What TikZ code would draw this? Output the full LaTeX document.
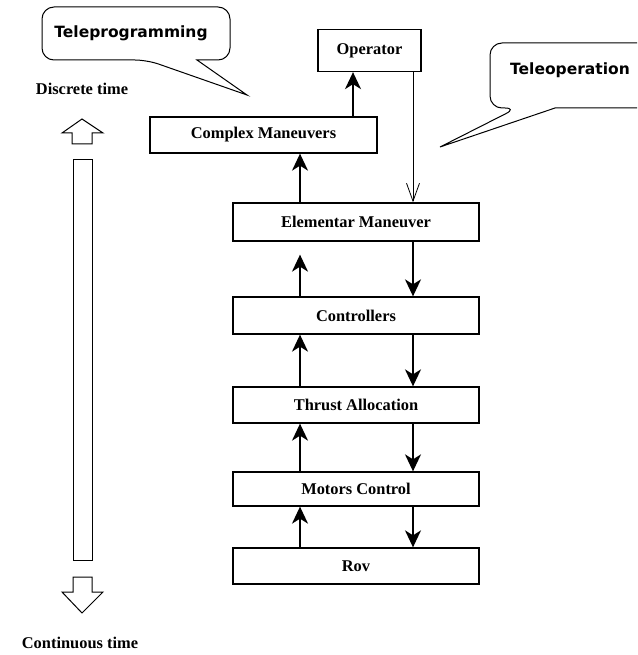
\documentclass[tikz,border=0pt]{standalone}
\usepackage{fontspec}
\setmainfont{Liberation Serif}
\newfontfamily\bubblefont{DejaVu Sans}
\usepackage{tikz}
\usetikzlibrary{arrows.meta}
\usepackage{xcolor}

\begin{document}
\begin{tikzpicture}[x=1pt,y=-1pt,
        block/.style={draw,line width=1.3pt,minimum width=246pt,minimum height=37pt,inner sep=0pt,
            font=\fontsize{16.4}{18}\selectfont\bfseries},
        uparrow/.style={line width=1.6pt,-{Stealth[length=17pt,width=16pt,inset=5pt]}},
        thinarrow/.style={line width=0.8pt,-{Straight Barb[length=18pt,width=13pt]}},
        bubble/.style={draw,line width=1pt,rounded corners=12pt},
        bubbletext/.style={font=\bubblefont\fontsize{15.5}{18}\selectfont\bfseries},
        timetext/.style={font=\fontsize{16.4}{18}\selectfont\bfseries}]
        \useasboundingbox (0,0) rectangle (637,655);
        \begin{scope}
            \clip (0,0) rectangle (637,655);
            % callouts
            \draw[bubble] (197,60) -- (230,60) -- (230,7) -- (42,7) -- (42,60) -- (147,60) [sharp corners] -- (247,95) -- cycle;
            \node[bubbletext] (teleprog) at (131,33) {Teleprogramming};
            \draw[bubble] (555,108) -- (650,108) -- (650,43) -- (490,43) -- (490,108) -- (517,108) [sharp corners] -- (440,147) -- cycle;
            \node[bubbletext] (teleop) at (570,70) {Teleoperation};
        \end{scope}

        % time axis
        \node[timetext] (discrete) at (82,89) {Discrete time};
        \node[timetext] (continuous) at (80,643) {Continuous time};
        \draw[line width=1pt] (72,144) -- (72,133) -- (62,133) -- (82,119) -- (103,133) -- (92,133) -- (92,144) -- cycle;
        \draw[line width=1pt] (73,160) rectangle (92,560);
        \draw[line width=1pt] (73,577) -- (92,577) -- (92,592) -- (103,592) -- (82,613) -- (62,592) -- (73,592) -- cycle;

        % blocks
        \node[block,minimum width=103pt,minimum height=42pt] (operator) at (369.5,50.5) {Operator};
        \node[block,minimum width=227pt,minimum height=36pt] (complex) at (263.5,135) {Complex Maneuvers};
        \node[block,minimum height=38pt] (elem) at (356,222) {Elementar Maneuver};
        \node[block] (ctrl) at (356,315.5) {Controllers};
        \node[block,minimum height=36pt] (thrust) at (356,405) {Thrust Allocation};
        \node[block,minimum height=34pt] (motors) at (356,489) {Motors Control};
        \node[block,minimum height=36pt] (rov) at (356,566) {Rov};

        \coordinate (lx) at (300,0);
        \coordinate (rx) at (413,0);
        \coordinate (cx) at (353,0);

        % arrows
        \draw[uparrow] (cx |- complex.north) -- (cx |- operator.south);
        \draw[thinarrow] (rx |- operator.south) -- (rx |- elem.north);
        \draw[uparrow] (lx |- elem.north) -- (lx |- complex.south);
        \draw[uparrow,shorten >=13pt] (lx |- ctrl.north) -- (lx |- elem.south);
        \draw[uparrow] (lx |- thrust.north) -- (lx |- ctrl.south);
        \draw[uparrow] (lx |- motors.north) -- (lx |- thrust.south);
        \draw[uparrow] (lx |- rov.north) -- (lx |- motors.south);
        \draw[uparrow] (rx |- elem.south) -- (rx |- ctrl.north);
        \draw[uparrow] (rx |- ctrl.south) -- (rx |- thrust.north);
        \draw[uparrow] (rx |- thrust.south) -- (rx |- motors.north);
        \draw[uparrow] (rx |- motors.south) -- (rx |- rov.north);
\end{tikzpicture}
\end{document}
